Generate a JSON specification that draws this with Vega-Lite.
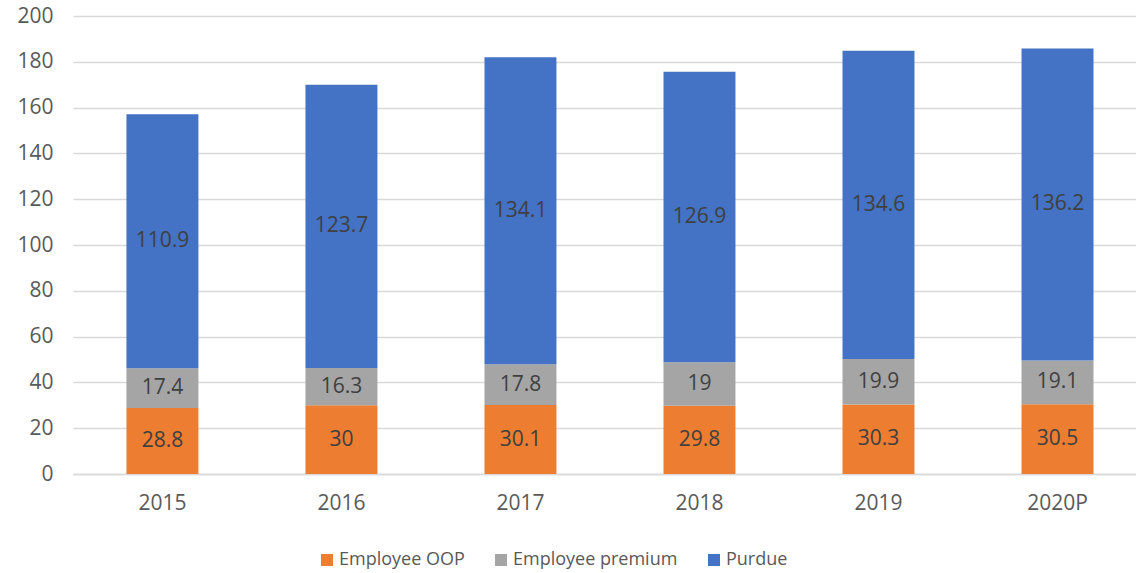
{
  "$schema": "https://vega.github.io/schema/vega-lite/v6.json",
  "width": 1063,
  "height": 458,
  "autosize": {"type": "none"},
  "padding": {"left": 73, "top": 16, "right": 0, "bottom": 99},
  "background": "white",
  "config": {
    "view": {"stroke": null},
    "font": "Open Sans"
  },
  "data": {
    "values": [
      {"year": "2015", "series": "Employee OOP", "value": 28.8},
      {"year": "2015", "series": "Employee premium", "value": 17.4},
      {"year": "2015", "series": "Purdue", "value": 110.9},
      {"year": "2016", "series": "Employee OOP", "value": 30},
      {"year": "2016", "series": "Employee premium", "value": 16.3},
      {"year": "2016", "series": "Purdue", "value": 123.7},
      {"year": "2017", "series": "Employee OOP", "value": 30.1},
      {"year": "2017", "series": "Employee premium", "value": 17.8},
      {"year": "2017", "series": "Purdue", "value": 134.1},
      {"year": "2018", "series": "Employee OOP", "value": 29.8},
      {"year": "2018", "series": "Employee premium", "value": 19},
      {"year": "2018", "series": "Purdue", "value": 126.9},
      {"year": "2019", "series": "Employee OOP", "value": 30.3},
      {"year": "2019", "series": "Employee premium", "value": 19.9},
      {"year": "2019", "series": "Purdue", "value": 134.6},
      {"year": "2020P", "series": "Employee OOP", "value": 30.5},
      {"year": "2020P", "series": "Employee premium", "value": 19.1},
      {"year": "2020P", "series": "Purdue", "value": 136.2}
    ]
  },
  "encoding": {
    "x": {
      "field": "year",
      "type": "nominal",
      "sort": null,
      "scale": {"paddingInner": 0.598, "paddingOuter": 0.268, "align": 0.557},
      "axis": {
        "title": null,
        "labelAngle": 0,
        "labelFontSize": 21,
        "labelColor": "#595959",
        "labelPadding": 18,
        "ticks": false,
        "domainColor": "#D9D9D9",
        "domainWidth": 1.5
      }
    },
    "y": {
      "field": "value",
      "type": "quantitative",
      "stack": "zero",
      "scale": {"domain": [0, 200], "nice": false},
      "axis": {
        "title": null,
        "values": [0, 20, 40, 60, 80, 100, 120, 140, 160, 180, 200],
        "labelFontSize": 21,
        "labelColor": "#595959",
        "labelPadding": 20,
        "ticks": false,
        "domain": false,
        "gridColor": "#D9D9D9",
        "gridWidth": 1.5
      }
    },
    "order": {"field": "series", "sort": "ascending"}
  },
  "layer": [
    {
      "mark": {"type": "bar"},
      "encoding": {
        "color": {
          "field": "series",
          "type": "nominal",
          "scale": {
            "domain": ["Employee OOP", "Employee premium", "Purdue"],
            "range": ["#ED7D31", "#A5A5A5", "#4472C4"]
          },
          "legend": {
            "title": null,
            "orient": "none",
            "direction": "horizontal",
            "legendX": 245,
            "legendY": 535,
            "symbolType": "square",
            "symbolSize": 144,
            "symbolStrokeWidth": 0,
            "labelFontSize": 18,
            "labelLimit": 400,
            "labelColor": "#595959",
            "labelOffset": 3,
            "columnPadding": 27
          }
        }
      }
    },
    {
      "mark": {"type": "text", "fontSize": 21, "color": "#404040", "baseline": "middle"},
      "encoding": {
        "y": {"field": "value", "type": "quantitative", "stack": "zero", "bandPosition": 0.5},
        "detail": {"field": "series"},
        "text": {"field": "value", "type": "quantitative"}
      }
    }
  ]
}
